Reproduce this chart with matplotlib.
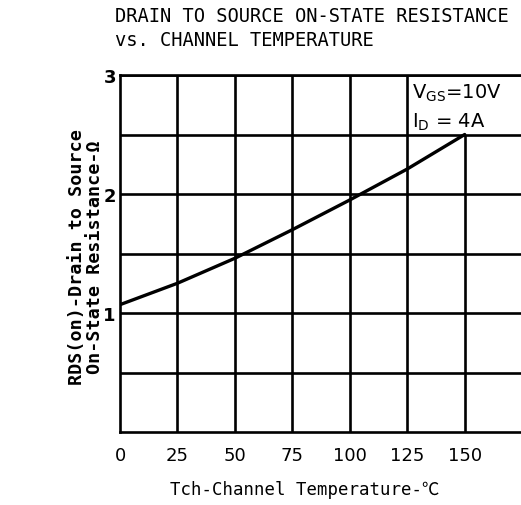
import matplotlib
matplotlib.use("Agg")
import matplotlib.pyplot as plt

# Data
temps = [0, 25, 50, 75, 100, 125, 150]
rds_on = [1.07, 1.25, 1.46, 1.70, 1.95, 2.21, 2.50]
x_ticks = [0, 25, 50, 75, 100, 125, 150]
x_tick_labels = ["0", "25", "50", "75", "100", "125", "150"]
y_ticks = [1, 2, 3]
y_tick_labels = ["1", "2", "3"]
h_grid = [0.5, 1.0, 1.5, 2.0, 2.5, 3.0]
v_grid = [25, 50, 75, 100, 125, 150]
title = "DRAIN TO SOURCE ON-STATE RESISTANCE\nvs. CHANNEL TEMPERATURE"
xlabel = "Tch-Channel Temperature-\u2103"
ylabel = "RDS(on)-Drain to Source\nOn-State Resistance-\u03a9"

W, H = 521, 506
fig = plt.figure(figsize=(W / 100, H / 100), dpi=100)
left, right, top, bottom = 120, 521, 76, 433
ax = fig.add_axes([left / W, 1 - bottom / H, (right - left) / W, (bottom - top) / H])
ax.set_xlim(0, 174.5)
ax.set_ylim(0, 3)

lw = 1.9
for y in h_grid:
    ax.axhline(y, color="black", lw=lw, zorder=1)
legend_bottom = 2.5
for x in v_grid:
    ymax = 3 if x < 150 else legend_bottom
    ax.vlines(x, 0, ymax, color="black", lw=lw, zorder=1)

ax.plot(temps, rds_on, color="black", lw=2.4, solid_capstyle="round", zorder=3)

ax.spines["right"].set_visible(False)
for s in ["left", "bottom", "top"]:
    ax.spines[s].set_linewidth(lw)

ax.set_xticks(x_ticks)
ax.set_xticklabels(x_tick_labels, fontsize=13, family="DejaVu Sans")
ax.set_yticks(y_ticks)
ax.set_yticklabels(y_tick_labels, fontsize=13, fontweight="bold", family="DejaVu Sans")
ax.tick_params(axis="y", length=0, pad=3)
ax.tick_params(axis="x", length=0, pad=10)

ax.text(127, 2.94, r"V$_{\rm GS}$=10V", fontsize=14, va="top", ha="left")
ax.text(127, 2.70, r"I$_{\rm D}$ = 4A", fontsize=14, va="top", ha="left")

fig.text(115 / W, 1 - 7 / H, title, family="DejaVu Sans Mono", fontsize=13.5,
         va="top", ha="left", linespacing=1.35)
fig.text(305 / W, 1 - 490 / H, xlabel, family=["DejaVu Sans Mono", "Noto Sans CJK SC"],
         fontsize=12.5, va="center", ha="center")
fig.text(86 / W, 1 - 257 / H, ylabel, family="DejaVu Sans Mono", fontsize=13.2,
         fontweight="bold", rotation=90, va="center", ha="center", linespacing=1.0)

fig.savefig("out.png", dpi=100)
